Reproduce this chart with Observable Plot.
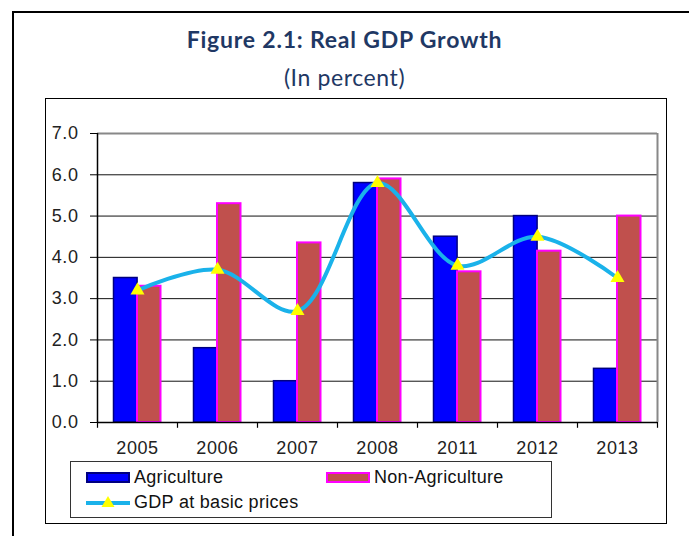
<!DOCTYPE html>
<html>
<head>
<meta charset="utf-8">
<script src="https://cdn.jsdelivr.net/npm/d3@7"></script>
<script src="https://cdn.jsdelivr.net/npm/@observablehq/plot@0.6"></script>
<style>
  html, body { margin: 0; padding: 0; background: #fff; }
  #page { position: relative; width: 689px; height: 536px; overflow: hidden; background: #fff; }
  #outer { position: absolute; left: 12px; top: 11px; width: 700px; height: 560px; border: 2px solid #000; box-sizing: border-box; }
  #title { position: absolute; left: 0; width: 689px; top: 25px; text-align: center; font-family: Lato, "Open Sans", sans-serif; font-weight: bold; font-size: 23px; letter-spacing: 0.8px; color: #1f3864; }
  #subtitle { position: absolute; left: 0; width: 689px; top: 63px; text-align: center; font-family: Lato, "Open Sans", sans-serif; font-size: 23px; letter-spacing: 0.6px; color: #1f3864; }
  #inner { position: absolute; left: 45px; top: 98px; width: 622px; height: 426px; border: 1.5px solid #000; box-sizing: border-box; }
  #chart { position: absolute; left: 0; top: 0; }
  #legend { position: absolute; left: 70px; top: 461px; width: 482px; height: 57px; border: 1.5px solid #333; box-sizing: border-box; font-family: "Liberation Sans", Arial, sans-serif; font-size: 18px; letter-spacing: 0.3px; color: #111; }
  .item { position: absolute; display: flex; align-items: center; height: 20px; }
  .sw { width: 44px; height: 11px; margin-right: 4px; box-sizing: border-box; }
</style>
</head>
<body>
<div id="page">
  <div id="outer"></div>
  <div id="title">Figure 2.1: Real GDP Growth</div>
  <div id="subtitle">(In percent)</div>
  <div id="inner"></div>
  <div id="chart"></div>
  <div id="legend">
    <div class="item" style="left:15px; top:5px;"><div class="sw" style="background:#0000ff; border:2px solid #000080;"></div><span>Agriculture</span></div>
    <div class="item" style="left:255px; top:5px;"><div class="sw" style="background:#c0504d; border:2px solid #ff00ff;"></div><span>Non-Agriculture</span></div>
    <div class="item" style="left:15px; top:30px;"><svg width="44" height="16" style="margin-right:4px"><line x1="0" x2="44" y1="9" y2="9" stroke="#1ab2ea" stroke-width="4"/><path d="M22,2 L28.5,13 L15.5,13 Z" fill="#ffff00"/></svg><span>GDP at basic prices</span></div>
  </div>
</div>
<script>
const years = ["2005", "2006", "2007", "2008", "2011", "2012", "2013"];
const agriculture = [3.5, 1.8, 1.0, 5.8, 4.5, 5.0, 1.3];
const nonAgriculture = [3.3, 5.3, 4.35, 5.9, 3.65, 4.15, 5.0];
const gdpBasic = [3.2, 3.7, 2.7, 5.8, 3.8, 4.5, 3.5];
const yTicks = [0, 1, 2, 3, 4, 5, 6, 7];
const gridLines = [1, 2, 3, 4, 5, 6];

const rows = years.map((year, i) => ({year, agri: agriculture[i], nonAgri: nonAgriculture[i], gdp: gdpBasic[i]}));

const W = 689, H = 470;
const mL = 97, mR = 32, mT = 133, mB = 48;
const bw = (W - mL - mR) / years.length;
const half = bw / 2;

const chart = Plot.plot({
  width: W,
  height: H,
  marginLeft: mL,
  marginRight: mR,
  marginTop: mT,
  marginBottom: mB,
  style: {fontFamily: "'Liberation Sans', Arial, sans-serif", fontSize: "18px", color: "#222", background: "transparent", overflow: "visible", letterSpacing: "0.6px"},
  x: {type: "band", domain: years, padding: 0, label: null},
  y: {domain: [0, 7], label: null},
  marks: [
    Plot.ruleY(gridLines, {stroke: "#111", strokeWidth: 1}),
    Plot.barY(rows, {x: "year", y: "agri", fill: "#0000ff", stroke: "#000080", strokeWidth: 1.5, insetLeft: 16.5, insetRight: 39.9}),
    Plot.barY(rows, {x: "year", y: "nonAgri", fill: "#c0504d", stroke: "#ff00ff", strokeWidth: 2, insetLeft: 40, insetRight: 16.5}),
    Plot.ruleY([7], {stroke: "#888", strokeWidth: 2}),
    Plot.ruleX(["2013"], {dx: half, y1: 0, y2: 7, stroke: "#888", strokeWidth: 2}),
    Plot.ruleX(["2005"], {dx: -half, y1: 0, y2: 7, stroke: "#000", strokeWidth: 1.5}),
    Plot.ruleY([0], {stroke: "#000", strokeWidth: 1.5}),
    Plot.ruleX(years, {x: d => d, dx: -half, y1: 0, y2: -0.14, stroke: "#000", strokeWidth: 1.2}),
    Plot.ruleX(["2013"], {x: d => d, dx: half, y1: 0, y2: -0.14, stroke: "#000", strokeWidth: 1.2}),
    Plot.line(rows, {x: "year", y: "gdp", curve: "catmull-rom", stroke: "#1ab2ea", strokeWidth: 4}),
    Plot.dot(rows, {x: "year", y: "gdp", symbol: "triangle", r: 5.2, fill: "#ffff00", stroke: "none"}),
    Plot.axisY(yTicks, {tickSize: 7, tickFormat: () => "", stroke: "#000"}),
    Plot.text(yTicks, {y: d => d, text: d => d.toFixed(1), frameAnchor: "left", textAnchor: "end", dx: -19, fontSize: 18, fill: "#222"}),
    Plot.axisX({tickSize: 0, tickPadding: 19, fontSize: 18})
  ]
});
document.getElementById("chart").appendChild(chart);
</script>
</body>
</html>
